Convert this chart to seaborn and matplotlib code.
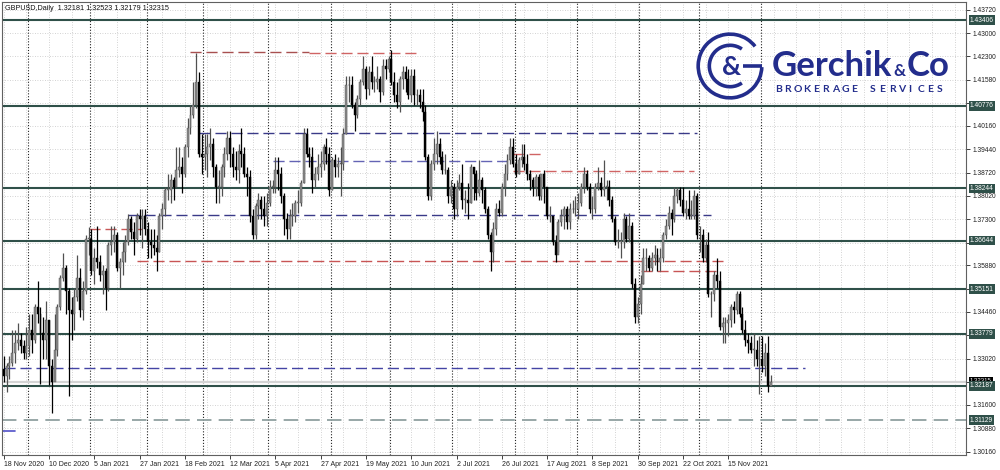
import numpy as np
import pandas as pd
import matplotlib.pyplot as plt
import seaborn as sns
from matplotlib.patches import Arc

sns.set_theme('notebook', style='white')
plt.rcParams['font.family'] = ['Liberation Sans', 'DejaVu Sans']

# ---- daily GBPUSD candles ----
first_open = 1.3270
close = [
    # Nov 2020
    1.3250, 1.3280, 1.3290, 1.3320, 1.3350, 1.3360, 1.3340, 1.3320, 1.3340,
    # Dec 2020
    1.3390, 1.3360, 1.3460, 1.3440, 1.3380, 1.3360, 1.3420, 1.3280, 1.3230, 1.3330, 1.3460,
    1.3550, 1.3580, 1.3510, 1.3450, 1.3440, 1.3490, 1.3550, 1.3450, 1.3510, 1.3670, 1.3670,
    # Jan 2021
    1.3570, 1.3610, 1.3600, 1.3560, 1.3570, 1.3520, 1.3650, 1.3660, 1.3680, 1.3580,
    1.3600, 1.3630, 1.3660, 1.3730, 1.3690, 1.3670, 1.3740, 1.3730, 1.3740, 1.3700,
    # Feb
    1.3660, 1.3650, 1.3640, 1.3630, 1.3740, 1.3760, 1.3820, 1.3820, 1.3850, 1.3830,
    1.3880, 1.3890, 1.3870, 1.3950, 1.4010, 1.4050, 1.4080, 1.4150, 1.3930, 1.3920,
    # Mar
    1.3930, 1.3950, 1.3960, 1.3890, 1.3830, 1.3830, 1.3890, 1.3930, 1.3980, 1.3930, 1.3890, 1.3880,
    1.3940, 1.3930, 1.3870, 1.3860, 1.3740, 1.3680, 1.3770, 1.3790, 1.3760, 1.3740, 1.3780,
    # Apr
    1.3830, 1.3830, 1.3880, 1.3870, 1.3800, 1.3730, 1.3700, 1.3740, 1.3740, 1.3780, 1.3780,
    1.3840, 1.3990, 1.3930, 1.3920, 1.3850, 1.3870, 1.3890, 1.3900, 1.3950, 1.3930, 1.3820,
    # May
    1.3910, 1.3890, 1.3900, 1.3900, 1.3990, 1.4140, 1.4140, 1.4080, 1.4050, 1.4100, 1.4150,
    1.4190, 1.4130, 1.4180, 1.4150, 1.4150, 1.4160, 1.4120, 1.4200, 1.4190, 1.4220,
    # Jun
    1.4150, 1.4110, 1.4090, 1.4160, 1.4180, 1.4160, 1.4110, 1.4170, 1.4110, 1.4110, 1.4090,
    1.4060, 1.3920, 1.3800, 1.3900, 1.3930, 1.3960, 1.3920, 1.3880, 1.3880, 1.3800, 1.3830,
    # Jul
    1.3760, 1.3830, 1.3840, 1.3790, 1.3790, 1.3780, 1.3890, 1.3870, 1.3810, 1.3850, 1.3820,
    1.3760, 1.3680, 1.3630, 1.3700, 1.3760, 1.3750, 1.3830, 1.3870, 1.3910, 1.3950, 1.3900,
    # Aug
    1.3870, 1.3910, 1.3920, 1.3900, 1.3870, 1.3850, 1.3830, 1.3860, 1.3800, 1.3870, 1.3830,
    1.3740, 1.3740, 1.3660, 1.3620, 1.3720, 1.3740, 1.3760, 1.3720, 1.3760, 1.3760, 1.3760,
    # Sep
    1.3780, 1.3830, 1.3870, 1.3830, 1.3760, 1.3760, 1.3830, 1.3840, 1.3820, 1.3830, 1.3830,
    1.3790, 1.3730, 1.3660, 1.3660, 1.3660, 1.3730, 1.3670, 1.3710, 1.3530, 1.3430, 1.3470,
    # Oct
    1.3530, 1.3610, 1.3610, 1.3580, 1.3610, 1.3620, 1.3600, 1.3610, 1.3680, 1.3710, 1.3750,
    1.3730, 1.3800, 1.3820, 1.3790, 1.3750, 1.3760, 1.3740, 1.3740, 1.3800, 1.3680,
    # Nov
    1.3680, 1.3610, 1.3650, 1.3500, 1.3500, 1.3560, 1.3540, 1.3400, 1.3410, 1.3410, 1.3420,
    1.3460, 1.3450, 1.3500, 1.3440, 1.3390, 1.3360, 1.3350, 1.3330, 1.3330, 1.3300, 1.3300,
    # Dec 2021
    1.3280, 1.3320, 1.32181, 1.32315,
]
high = [
    1.3310, 1.3290, 1.3310, 1.3390, 1.3390, 1.3410, 1.3380, 1.3360, 1.3400,
    1.3440, 1.3440, 1.3470, 1.3540, 1.3460, 1.3430, 1.3480, 1.3420, 1.3300, 1.3440, 1.3470,
    1.3560, 1.3625, 1.3590, 1.3520, 1.3490, 1.3520, 1.3620, 1.3580, 1.3540, 1.3680, 1.3705,
    1.3700, 1.3640, 1.3710, 1.3620, 1.3590, 1.3580, 1.3660, 1.3710, 1.3710, 1.3690,
    1.3610, 1.3660, 1.3680, 1.3745, 1.3740, 1.3720, 1.3750, 1.3760, 1.3760, 1.3760,
    1.3720, 1.3700, 1.3700, 1.3680, 1.3750, 1.3780, 1.3830, 1.3870, 1.3870, 1.3860,
    1.3950, 1.3950, 1.3920, 1.3960, 1.4040, 1.4080, 1.4150, 1.4240, 1.4180, 1.3990,
    1.3990, 1.3990, 1.4010, 1.3980, 1.3900, 1.3880, 1.3900, 1.3950, 1.4000, 1.4000, 1.3950, 1.3940,
    1.3960, 1.4010, 1.3950, 1.3890, 1.3880, 1.3760, 1.3780, 1.3810, 1.3800, 1.3800, 1.3810,
    1.3850, 1.3850, 1.3920, 1.3920, 1.3890, 1.3810, 1.3750, 1.3760, 1.3780, 1.3790, 1.3820,
    1.3850, 1.4010, 1.4010, 1.3950, 1.3950, 1.3890, 1.3930, 1.3940, 1.3960, 1.3980, 1.3950,
    1.3920, 1.3930, 1.3920, 1.3950, 1.4010, 1.4170, 1.4170, 1.4170, 1.4090, 1.4110, 1.4160,
    1.4230, 1.4200, 1.4200, 1.4230, 1.4170, 1.4200, 1.4170, 1.4220, 1.4220, 1.4230,
    1.4250, 1.4180, 1.4150, 1.4170, 1.4200, 1.4200, 1.4190, 1.4190, 1.4190, 1.4130, 1.4130,
    1.4130, 1.4080, 1.3930, 1.3910, 1.3980, 1.4000, 1.3980, 1.3940, 1.3930, 1.3890, 1.3850,
    1.3840, 1.3850, 1.3870, 1.3900, 1.3820, 1.3840, 1.3900, 1.3890, 1.3880, 1.3910, 1.3860,
    1.3830, 1.3770, 1.3690, 1.3720, 1.3780, 1.3790, 1.3840, 1.3900, 1.3930, 1.3980, 1.3980,
    1.3930, 1.3920, 1.3960, 1.3960, 1.3930, 1.3880, 1.3860, 1.3870, 1.3870, 1.3870, 1.3880,
    1.3830, 1.3770, 1.3740, 1.3680, 1.3730, 1.3760, 1.3770, 1.3770, 1.3780, 1.3790, 1.3800,
    1.3810, 1.3840, 1.3890, 1.3880, 1.3840, 1.3800, 1.3840, 1.3890, 1.3860, 1.3910, 1.3850,
    1.3850, 1.3800, 1.3740, 1.3700, 1.3690, 1.3750, 1.3740, 1.3750, 1.3720, 1.3550, 1.3490,
    1.3560, 1.3640, 1.3640, 1.3620, 1.3630, 1.3650, 1.3640, 1.3640, 1.3690, 1.3730, 1.3770,
    1.3760, 1.3830, 1.3830, 1.3830, 1.3830, 1.3790, 1.3820, 1.3790, 1.3820, 1.3810,
    1.3710, 1.3700, 1.3670, 1.3690, 1.3510, 1.3570, 1.3610, 1.3570, 1.3430, 1.3430, 1.3440,
    1.3470, 1.3480, 1.3510, 1.3510, 1.3460, 1.3420, 1.3380, 1.3370, 1.3380, 1.3360, 1.3370,
    1.3370, 1.3350, 1.3370, 1.32523,
]
low = [
    1.3230, 1.3200, 1.3240, 1.3280, 1.3290, 1.3330, 1.3320, 1.3300, 1.3300,
    1.3310, 1.3320, 1.3350, 1.3410, 1.3225, 1.3300, 1.3300, 1.3220, 1.3135, 1.3270, 1.3310,
    1.3450, 1.3540, 1.3440, 1.3188, 1.3360, 1.3390, 1.3480, 1.3430, 1.3420, 1.3500, 1.3620,
    1.3560, 1.3530, 1.3580, 1.3540, 1.3500, 1.3450, 1.3510, 1.3620, 1.3630, 1.3570,
    1.3520, 1.3560, 1.3600, 1.3650, 1.3670, 1.3620, 1.3660, 1.3680, 1.3640, 1.3680,
    1.3610, 1.3610, 1.3620, 1.3570, 1.3630, 1.3700, 1.3740, 1.3790, 1.3780, 1.3790,
    1.3830, 1.3860, 1.3810, 1.3860, 1.3920, 1.3990, 1.4040, 1.4070, 1.3920, 1.3870,
    1.3880, 1.3860, 1.3910, 1.3860, 1.3780, 1.3780, 1.3800, 1.3860, 1.3910, 1.3890, 1.3860, 1.3850,
    1.3840, 1.3890, 1.3860, 1.3800, 1.3720, 1.3670, 1.3670, 1.3730, 1.3730, 1.3710, 1.3710,
    1.3770, 1.3810, 1.3810, 1.3820, 1.3780, 1.3680, 1.3670, 1.3670, 1.3710, 1.3720, 1.3750,
    1.3770, 1.3840, 1.3920, 1.3890, 1.3810, 1.3830, 1.3850, 1.3860, 1.3880, 1.3900, 1.3800,
    1.3820, 1.3860, 1.3860, 1.3800, 1.3880, 1.3990, 1.4090, 1.4070, 1.4000, 1.4040, 1.4080,
    1.4140, 1.4100, 1.4110, 1.4130, 1.4120, 1.4130, 1.4090, 1.4110, 1.4160, 1.4180,
    1.4140, 1.4090, 1.4070, 1.4060, 1.4130, 1.4120, 1.4100, 1.4090, 1.4080, 1.4080, 1.4070,
    1.4030, 1.3910, 1.3790, 1.3790, 1.3880, 1.3900, 1.3900, 1.3870, 1.3870, 1.3780, 1.3780,
    1.3730, 1.3740, 1.3820, 1.3760, 1.3750, 1.3730, 1.3780, 1.3790, 1.3790, 1.3800, 1.3780,
    1.3750, 1.3670, 1.3570, 1.3600, 1.3680, 1.3740, 1.3740, 1.3800, 1.3850, 1.3900, 1.3890,
    1.3860, 1.3870, 1.3890, 1.3880, 1.3850, 1.3820, 1.3800, 1.3800, 1.3790, 1.3790, 1.3780,
    1.3730, 1.3720, 1.3650, 1.3600, 1.3630, 1.3710, 1.3700, 1.3700, 1.3700, 1.3750, 1.3740,
    1.3730, 1.3770, 1.3810, 1.3820, 1.3750, 1.3730, 1.3750, 1.3820, 1.3800, 1.3800, 1.3790,
    1.3770, 1.3720, 1.3650, 1.3640, 1.3610, 1.3640, 1.3660, 1.3660, 1.3520, 1.3410, 1.3410,
    1.3440, 1.3530, 1.3570, 1.3570, 1.3570, 1.3590, 1.3570, 1.3570, 1.3600, 1.3670, 1.3700,
    1.3680, 1.3720, 1.3780, 1.3770, 1.3740, 1.3730, 1.3730, 1.3730, 1.3730, 1.3670,
    1.3630, 1.3600, 1.3600, 1.3490, 1.3430, 1.3480, 1.3520, 1.3390, 1.3350, 1.3350, 1.3370,
    1.3400, 1.3410, 1.3440, 1.3430, 1.3380, 1.3340, 1.3320, 1.3320, 1.3280, 1.3280, 1.3195,
    1.3260, 1.3250, 1.3200, 1.32179,
]
holidays = ['2020-12-25', '2021-01-01']

# horizontal levels
solid_levels = [1.43406, 1.40776, 1.38244, 1.36644, 1.35151, 1.33779, 1.32187]
dash_price = [1.4242, 1.4239, 1.39946, 1.39087, 1.39301, 1.38780, 1.37414, 1.36985, 1.36003, 1.35711, 1.32735]
dash_start = [66, 108, 69, 95, 180, 180, 44, 30, 47, 225, 0]
dash_end = [108, 147, 245, 178, 190, 244, 250, 49, 254, 253, 283]
grey_level = 1.31129
price_line = 1.32315
small_level = 1.30787

ytick_vals = [1.43720, 1.43000, 1.42300, 1.41580, 1.40860, 1.40160, 1.39440, 1.38720, 1.38020, 1.37300,
              1.36580, 1.35880, 1.35160, 1.34460, 1.33740, 1.33020, 1.32300, 1.31600, 1.30880, 1.30160]
ytick_hidden = [1.40860, 1.36580, 1.35160, 1.33740, 1.32300]

# ---- prepare ----
dates = pd.bdate_range('2020-11-18', '2021-12-06')
dates = dates[~dates.isin(pd.to_datetime(holidays))]
df = pd.DataFrame({'close': close, 'high': high, 'low': low})
assert len(df) == len(dates), (len(df), len(dates))
df['open'] = df['close'].shift(1).fillna(first_open)
df['x'] = np.arange(len(df))
n = len(df)

fig = plt.figure(figsize=(10, 4.7), dpi=100)
ax = fig.add_axes([0.002, 0.032, 0.964, 0.964])
ax.set_xlim(-0.6, 340)
ax.set_ylim(1.30066, 1.43965)

# grid
for v in ytick_vals:
    ax.axhline(v, color='#c4c4c4', lw=0.6, ls=(0, (1, 2)), zorder=0)
for gx in range(0, 340, 8):
    ax.axvline(gx, color='#c4c4c4', lw=0.6, ls=(0, (1, 2)), zorder=0)
month_start = np.where(dates.month[1:] != dates.month[:-1])[0] + 1
for m in month_start:
    ax.axvline(m - 0.5, color='#222222', lw=0.8, ls=(0, (1, 1.6)), zorder=0.5)

# levels
for lv in solid_levels:
    ax.axhline(lv, color='#2f5049', lw=1.5, zorder=1)
dash_colors = ['#a85050', '#d06464', '#3a3a88', '#6464b4', '#d06464', '#d06464',
               '#3a3a88', '#c85858', '#c85555', '#c85555', '#4444a4']
for p, s, e, c in zip(dash_price, dash_start, dash_end, dash_colors):
    ax.plot([s, e], [p, p], color=c, lw=1.0, ls=(0, (8, 3.5)), zorder=1.2)
ax.axhline(grey_level, color='#90a0a0', lw=1.3, ls=(0, (8, 4)), zorder=1)
ax.axhline(price_line, color='#d4d4d4', lw=1.6, zorder=0.9)
ax.plot([-0.6, 4], [small_level, small_level], color='#5050c8', lw=1.2, zorder=1)

# candles
bull = df['close'] >= df['open']
ax.vlines(df['x'][bull], df['low'][bull], df['high'][bull], color='#505050', lw=0.9, zorder=2)
ax.vlines(df['x'][~bull], df['low'][~bull], df['high'][~bull], color='#000000', lw=0.9, zorder=2)
body_lo = np.minimum(df['open'], df['close'])
body_h = np.maximum((df['close'] - df['open']).abs(), 0.00018)
ax.bar(df['x'][bull], body_h[bull], bottom=body_lo[bull], width=0.7,
       color='#8c8c8c', edgecolor='#4a4a4a', linewidth=0.3, zorder=3)
ax.bar(df['x'][~bull], body_h[~bull], bottom=body_lo[~bull], width=0.7,
       color='#000000', edgecolor='#000000', linewidth=0.3, zorder=3)

# axes styling
for sp in ax.spines.values():
    sp.set_color('#606060')
    sp.set_linewidth(0.8)
ax.yaxis.tick_right()
ax.set_yticks(ytick_vals)
ax.set_yticklabels(['' if v in ytick_hidden else f'{v:.5f}' for v in ytick_vals])
ax.tick_params(axis='y', right=True, length=3, width=0.6, direction='out', labelsize=4.8, pad=2,
               colors='#202020')
xt = list(range(0, n, 16))
ax.set_xticks(xt)
ax.set_xticklabels([f"{dates[i].day} {dates[i].strftime('%b %Y')}" for i in xt], ha='left')
ax.tick_params(axis='x', bottom=True, length=3, width=0.6, direction='out', labelsize=5, pad=1,
               colors='#202020')
ax.grid(False)

# right side value boxes
ytf = ax.get_yaxis_transform()
ax.text(1.004, price_line + 0.0004, f'{price_line:.5f}', transform=ytf, ha='left', va='center',
        fontsize=4.3, color='white', bbox=dict(boxstyle='square,pad=0.15', fc='black', ec='none'),
        zorder=5, clip_on=False)
for lv in solid_levels + [grey_level]:
    ax.text(1.004, lv, f'{lv:.5f}', transform=ytf, ha='left', va='center', fontsize=4.8,
            color='white', bbox=dict(boxstyle='square,pad=0.2', fc='#2f5049', ec='none'),
            zorder=6, clip_on=False)

# header
fig.text(0.005, 1 - 9 / 470, 'GBPUSD,Daily  1.32181 1.32523 1.32179 1.32315', fontsize=5.2,
         va='center', ha='left', color='#111111')

# logo
navy = '#232d8c'
lax = fig.add_axes([695 / 1000, 1 - 102 / 470, 70 / 1000, 72 / 470])
lax.set_xlim(-1.1, 1.1)
lax.set_ylim(-1.13, 1.13)
lax.axis('off')
lax.add_patch(Arc((0, 0), 2.0, 2.0, theta1=38, theta2=358, color=navy, lw=2.6))
lax.plot([0.42, 1.0], [0.0, 0.0], color=navy, lw=2.6, solid_capstyle='butt')
lax.add_patch(Arc((0, 0), 1.3, 1.3, theta1=55, theta2=305, color=navy, lw=2.6))
lax.text(0.05, -0.02, '&', fontsize=19, fontweight='bold', color=navy, ha='center', va='center',
         family='Lato')

t1 = fig.text(772 / 1000, 1 - 76 / 470, 'Gerchik', fontsize=25, fontweight='bold', color=navy,
              family='Lato', va='baseline')
fig.canvas.draw()
bb = t1.get_window_extent()
t2 = fig.text((bb.x1 + 1) / 1000, 1 - 76 / 470, '&', fontsize=12, fontweight='bold', color=navy,
              family='Lato', va='baseline')
fig.canvas.draw()
bb2 = t2.get_window_extent()
fig.text((bb2.x1 + 1) / 1000, 1 - 76 / 470, 'Co', fontsize=25, fontweight='bold', color=navy,
         family='Lato', va='baseline')
for i, ch in enumerate('BROKERAGE SERVICES'):
    fig.text((775 + i * 9.5) / 1000, 1 - 92 / 470, ch, fontsize=7.5, fontweight='bold', color=navy,
             family='Lato', va='baseline')

fig.savefig('out.png', dpi=100)
